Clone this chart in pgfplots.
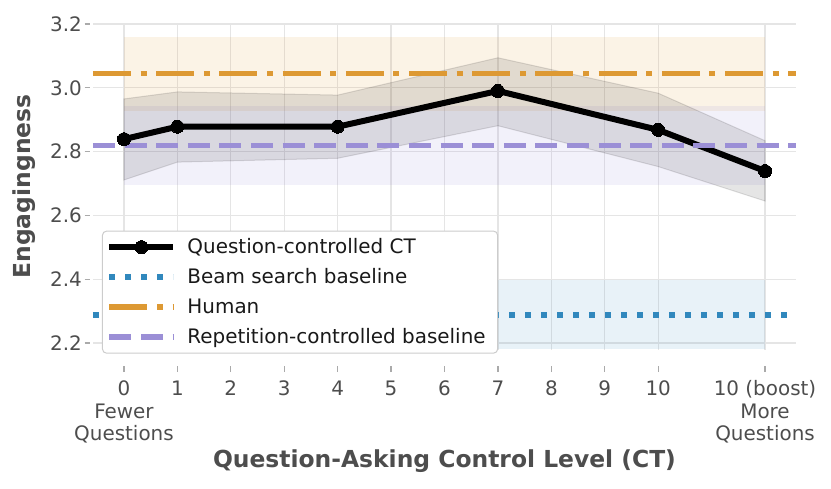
\documentclass[border=0pt]{standalone}
\usepackage{pgfplots}
\pgfplotsset{compat=1.18}
\usepackage{fontspec}
\setmainfont{DejaVu Sans}
\definecolor{cthuman}{RGB}{221,153,51}
\definecolor{ctrep}{RGB}{155,143,214}
\definecolor{ctbeam}{RGB}{49,136,189}
\definecolor{txtgray}{RGB}{77,77,77}
\definecolor{gridgray}{RGB}{229,229,229}
\definecolor{tickgray}{RGB}{170,170,170}
\newcommand{\tl}[1]{\begin{tabular}[t]{@{}c@{}}#1\end{tabular}}
\begin{document}
\begin{tikzpicture}
\begin{axis}[
  scale only axis, width=703bp, height=327bp,
  xmin=-0.58, xmax=12.58, ymin=2.178, ymax=3.203,
  axis line style={draw=none},
  tick pos=left, tick align=outside,
  major tick length=6bp,
  every tick/.style={color=tickgray, line width=1.3bp},
  xtick style={yshift=-16bp},
  ytick style={xshift=-2.5bp},
  grid=major,
  major grid style={color=gridgray, line width=1.3bp},
  xtick={0,1,2,3,4,5,6,7,8,9,10,12},
  xticklabels={{\tl{0\\Fewer\\Questions}},\tl{1},\tl{2},\tl{3},\tl{4},\tl{5},\tl{6},\tl{7},\tl{8},\tl{9},\tl{10},{\tl{10 (boost)\\More\\Questions}}},
  ytick={2.2,2.4,2.6,2.8,3.0,3.2},
  yticklabel style={/pgf/number format/fixed, /pgf/number format/fixed zerofill, /pgf/number format/precision=1},
  /pgf/number format/assume math mode=true,
  ticklabel style={font=\fontsize{20}{22.5}\selectfont, text=txtgray},
  xticklabel style={anchor=north, inner sep=0pt, yshift=-24bp},
  yticklabel style={anchor=east, inner sep=0pt, xshift=-5bp},
  xlabel={Question-Asking Control Level (CT)},
  ylabel={Engagingness},
  label style={font=\fontsize{23.5}{28}\selectfont\bfseries, text=txtgray},
  xlabel style={at={(axis description cs:0.5,-0.358)}, anchor=base},
  ylabel style={at={(axis description cs:-0.0882,0.5)}, anchor=base},
  legend cell align=left,
  legend style={at={(axis description cs:0.0128,0.365)}, anchor=north west,
    draw=gray!40, line width=1bp, rounded corners=4bp, fill=white,
    inner xsep=4bp, inner ysep=6bp, row sep=10bp, column sep=11bp,
    font=\fontsize{20}{24}\selectfont, text=black!90,
    nodes={inner sep=0pt, text height=16bp, text depth=4bp}},
  legend image code/.code={\draw[mark repeat=2,mark phase=2,#1] plot coordinates {(0bp,0bp) (32bp,0bp) (64bp,0bp)};},
]
% bands
\addplot[forget plot, draw=none, fill=cthuman, fill opacity=0.12] coordinates {(0,2.927) (12,2.927) (12,3.160) (0,3.160)} -- cycle;
\addplot[forget plot, draw=none, fill=ctrep, fill opacity=0.13] coordinates {(0,2.694) (12,2.694) (12,2.943) (0,2.943)} -- cycle;
\addplot[forget plot, draw=none, fill=ctbeam, fill opacity=0.11] coordinates {(0,2.180) (12,2.180) (12,2.397) (0,2.397)} -- cycle;
\addplot[forget plot, draw=black, draw opacity=0.12, line width=1bp, fill=black, fill opacity=0.1] coordinates {
(0,2.965) (1,2.987) (4,2.977) (7,3.094) (10,2.983) (12,2.834)
(12,2.645) (10,2.753) (7,2.881) (4,2.779) (1,2.767) (0,2.711)} -- cycle;
% lines
\addplot[black, line width=6bp, mark=*, mark size=6.5bp, mark options={solid, fill=black, line width=0bp}] coordinates {
(0,2.839) (1,2.878) (4,2.878) (7,2.990) (10,2.868) (12,2.739)};
\addlegendentry{Question-controlled CT}
\addplot[ctbeam, line width=5.5bp, line cap=butt, dash pattern=on 6bp off 10bp] coordinates {(-0.58,2.288) (12.58,2.288)};
\addlegendentry{Beam search baseline}
\addplot[cthuman, line width=5.5bp, line cap=butt, dash pattern=on 38bp off 9.6bp on 6bp off 9.6bp] coordinates {(-0.58,3.045) (12.58,3.045)};
\addlegendentry{Human}
\addplot[ctrep, line width=5.5bp, line cap=butt, dash pattern=on 22bp off 9.6bp] coordinates {(-0.58,2.819) (12.58,2.819)};
\addlegendentry{Repetition-controlled baseline\hspace*{8bp}}
\end{axis}
\pgfresetboundingbox
\path[use as bounding box] ([shift={(-93bp,-139bp)}]current axis.south west) rectangle ++(831bp,489bp);
\end{tikzpicture}
\end{document}
